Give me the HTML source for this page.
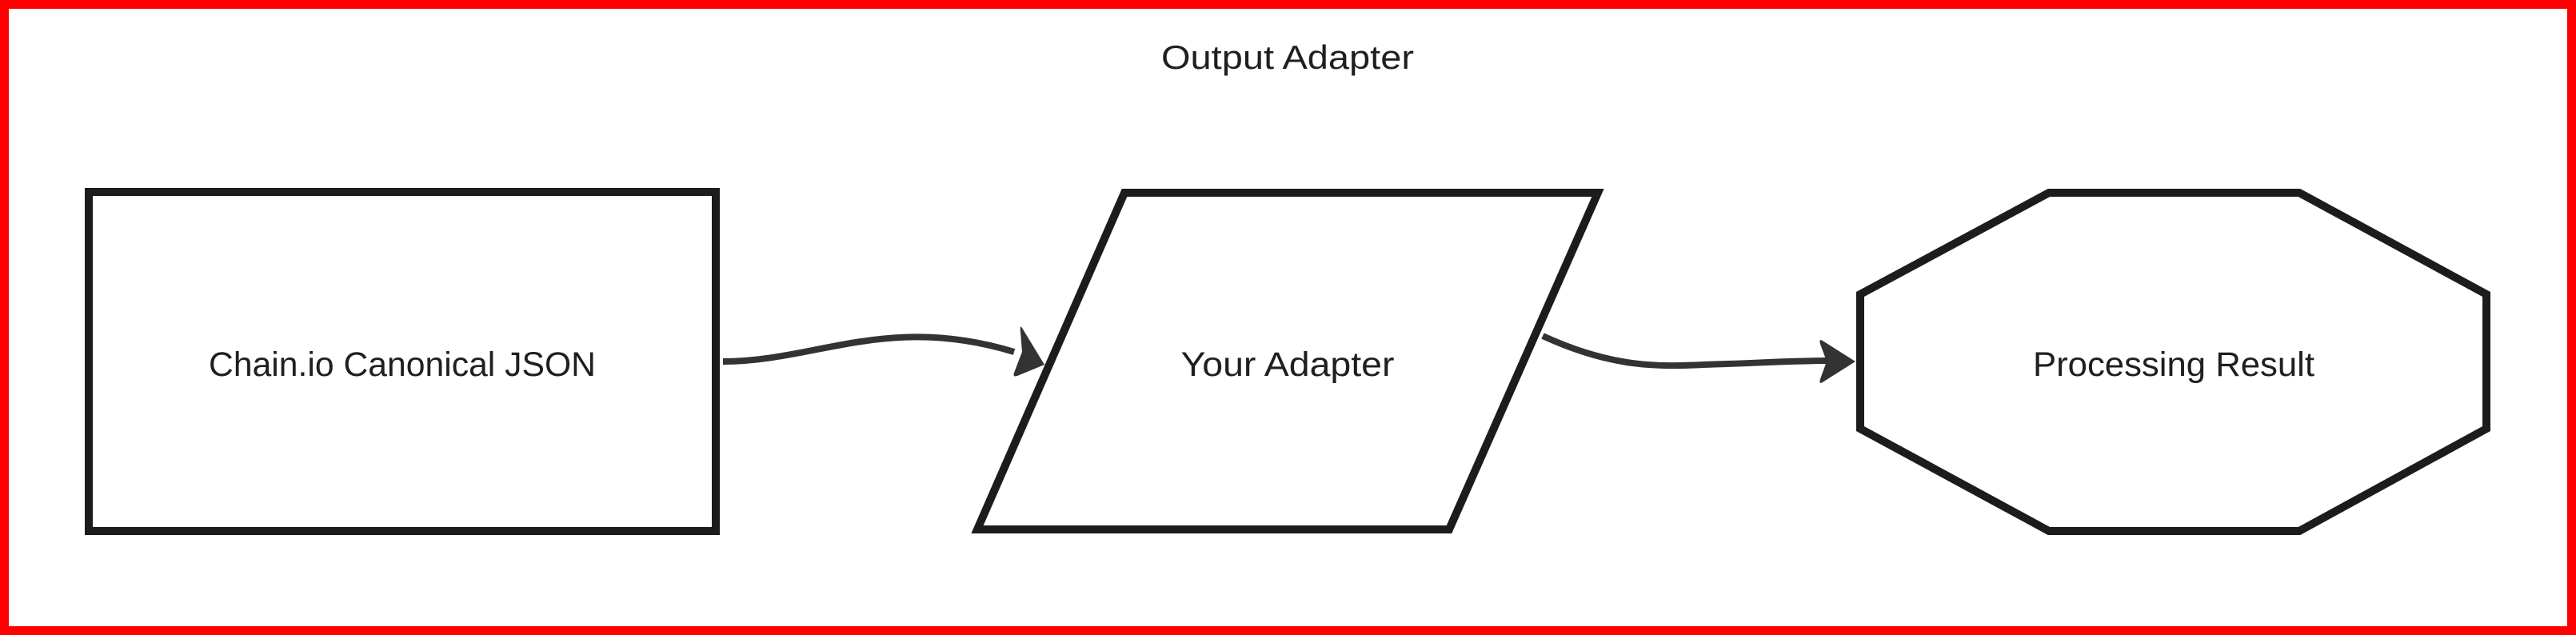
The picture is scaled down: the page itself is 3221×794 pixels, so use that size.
<!DOCTYPE html>
<html><head><meta charset="utf-8"><style>
html,body{margin:0;padding:0;background:#fff;}
svg{display:block;}
text{font-family:"Liberation Sans","DejaVu Sans",sans-serif;fill:#1f1f1f;}
</style></head><body>
<svg width="3221" height="794" viewBox="0 0 3221 794" xmlns="http://www.w3.org/2000/svg">
<rect x="0" y="0" width="3221" height="794" fill="#fff"/>
<rect x="5.5" y="5.5" width="3210" height="783" fill="none" stroke="#ff0000" stroke-width="11"/>
<text x="1610" y="86" font-size="42" text-anchor="middle" textLength="316" lengthAdjust="spacingAndGlyphs">Output Adapter</text>
<rect x="111" y="240" width="784" height="424" fill="#fff" stroke="#1c1c1c" stroke-width="10"/>
<text x="503" y="470" font-size="43" text-anchor="middle" textLength="484" lengthAdjust="spacingAndGlyphs">Chain.io Canonical JSON</text>
<polygon points="1406,241 1998,241 1812,662 1222,662" fill="#fff" stroke="#1c1c1c" stroke-width="10"/>
<text x="1610" y="470" font-size="43" text-anchor="middle" textLength="267" lengthAdjust="spacingAndGlyphs">Your Adapter</text>
<polygon points="2562,241 2875,241 3109,368 3109,536 2875,664 2562,664 2326,536 2326,368" fill="#fff" stroke="#1c1c1c" stroke-width="10"/>
<text x="2718" y="470" font-size="43" text-anchor="middle" textLength="352" lengthAdjust="spacingAndGlyphs">Processing Result</text>
<path d="M904,452 C1020,452 1110,392 1268,440" fill="none" stroke="#333" stroke-width="8"/>
<path d="M1306,456 L1278,410 Q1275,405 1276,415 L1278,440 L1268,466 Q1266,472 1272,470 Z" fill="#333"/>
<path d="M1929,420 C2020,462 2080,458 2130,456 C2200,454 2240,451 2286,451" fill="none" stroke="#333" stroke-width="8"/>
<path d="M2320,452 L2279,426 Q2274,423 2276,430 L2284,452 L2276,474 Q2274,481 2279,478 Z" fill="#333"/>
</svg>
</body></html>
